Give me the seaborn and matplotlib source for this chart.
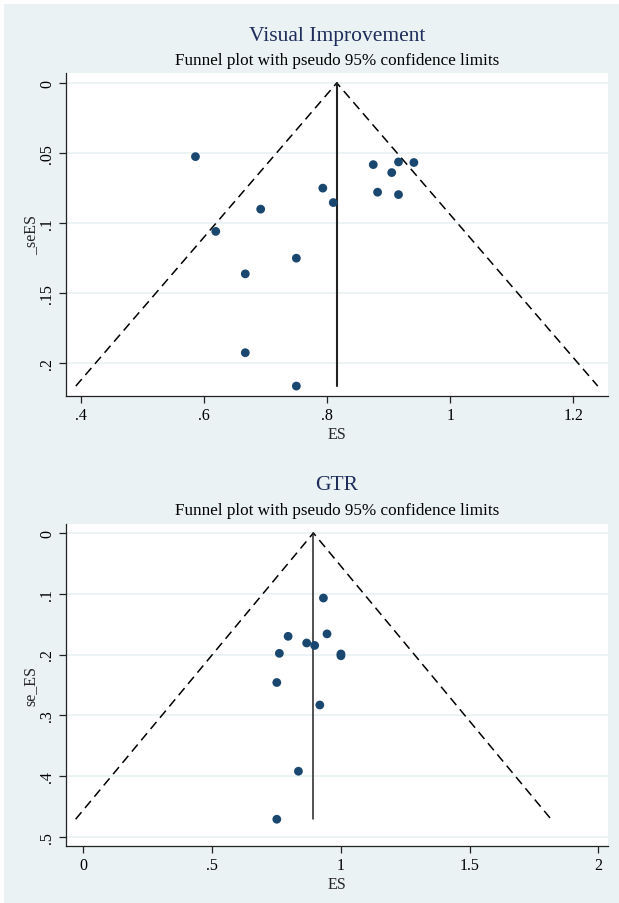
import matplotlib
matplotlib.use("Agg")
import matplotlib.pyplot as plt
import pandas as pd
import seaborn as sns
from matplotlib.patches import Rectangle

# Visual improvement: study effect sizes and standard errors
vi_es = [0.586, 0.875, 0.916, 0.941, 0.905, 0.793, 0.882, 0.916, 0.810,
         0.692, 0.619, 0.750, 0.667, 0.667, 0.750]
vi_se = [0.0526, 0.0583, 0.0564, 0.0568, 0.0640, 0.0751, 0.0780, 0.0797,
         0.0854, 0.0901, 0.1060, 0.1251, 0.1363, 0.1926, 0.2164]
vi_pooled = 0.8157
vi_xticks = [0.4, 0.6, 0.8, 1.0, 1.2]
vi_xlabels = [".4", ".6", ".8", "1", "1.2"]
vi_yticks = [0.0, 0.05, 0.10, 0.15, 0.20]
vi_ylabels = ["0", ".05", ".1", ".15", ".2"]

# GTR: study effect sizes and standard errors
gtr_es = [0.932, 0.946, 0.795, 0.867, 0.898, 0.761, 1.000, 1.000, 0.751,
          0.918, 0.835, 0.751]
gtr_se = [0.107, 0.166, 0.170, 0.181, 0.185, 0.198, 0.199, 0.202, 0.246,
          0.283, 0.392, 0.471]
gtr_pooled = 0.893
gtr_xticks = [0.0, 0.5, 1.0, 1.5, 2.0]
gtr_xlabels = ["0", ".5", "1", "1.5", "2"]
gtr_yticks = [0.0, 0.1, 0.2, 0.3, 0.4, 0.5]
gtr_ylabels = ["0", ".1", ".2", ".3", ".4", ".5"]

Z95 = 1.96
BG = "#EAF2F3"
NAVY = "#1A476F"
TITLE_NAVY = "#1E2D5A"

sns.set_style("white")
plt.rcParams["font.family"] = ["Liberation Serif", "DejaVu Serif"]

W, H = 619, 904
fig = plt.figure(figsize=(W / 100, H / 100), dpi=100)
fig.patch.set_facecolor("white")
fig.patches.append(Rectangle((4 / W, 0), 1, 1 - 5 / H, transform=fig.transFigure,
                             facecolor=BG, edgecolor="none", zorder=-10))


def funnel(rect, es, se, pooled, xticks, xlabels, yticks, ylabels,
           xlim, ylim, ylabel, title, title_y, sub_y, vlw):
    ax = fig.add_axes(rect)
    ax.set_facecolor("white")
    df = pd.DataFrame({"ES": es, "se": se})
    se_max = max(se)
    # pseudo 95% confidence limits and pooled estimate
    ax.plot([pooled - Z95 * se_max, pooled, pooled + Z95 * se_max],
            [se_max, 0, se_max], color="black", lw=1.1,
            linestyle=(0, (6, 3.6)), zorder=2)
    ax.plot([pooled, pooled], [0, se_max], color="#222222", lw=vlw, zorder=2)
    sns.scatterplot(data=df, x="ES", y="se", ax=ax, color=NAVY, s=40,
                    edgecolor="none", zorder=3)
    ax.set_xlim(*xlim)
    ax.set_ylim(*ylim)
    ax.set_xticks(xticks)
    ax.set_xticklabels(xlabels)
    ax.set_yticks(yticks)
    ax.set_yticklabels(ylabels, rotation=90, va="center")
    ax.yaxis.grid(True, color=BG, lw=1.3, zorder=0)
    ax.xaxis.grid(False)
    for side in ("top", "right"):
        ax.spines[side].set_visible(False)
    for side in ("left", "bottom"):
        ax.spines[side].set_color("#222222")
        ax.spines[side].set_linewidth(0.9)
    ax.tick_params(axis="both", which="major", length=5, width=0.9,
                   color="#222222", labelsize=11.5, labelcolor="black",
                   direction="out", bottom=True, left=True, pad=3)
    ax.set_xlabel("ES", fontsize=11.5, labelpad=2)
    ax.set_ylabel(ylabel, fontsize=11.5, labelpad=0)
    cx = rect[0] + rect[2] / 2
    fig.text(cx, 1 - title_y / H, title, ha="center", va="center",
             fontsize=15.5, color=TITLE_NAVY)
    fig.text(cx, 1 - sub_y / H, "Funnel plot with pseudo 95% confidence limits",
             ha="center", va="center", fontsize=12.3, color="black")
    return ax


left = 66 / W
width = (608 - 66) / W

funnel([left, 1 - 397 / H, width, (397 - 74) / H], vi_es, vi_se, vi_pooled,
       vi_xticks, vi_xlabels, vi_yticks, vi_ylabels,
       (0.3756, 1.2565), (0.2235, -0.0071), "_seES", "Visual Improvement",
       36, 61, 1.5)

funnel([left, 1 - 847 / H, width, (847 - 525) / H], gtr_es, gtr_se, gtr_pooled,
       gtr_xticks, gtr_xlabels, gtr_yticks, gtr_ylabels,
       (-0.0675, 2.037), (0.515, -0.0148), "se_ES", "GTR",
       486, 511, 1.1)

fig.savefig("out.png", dpi=100, facecolor=fig.get_facecolor())
